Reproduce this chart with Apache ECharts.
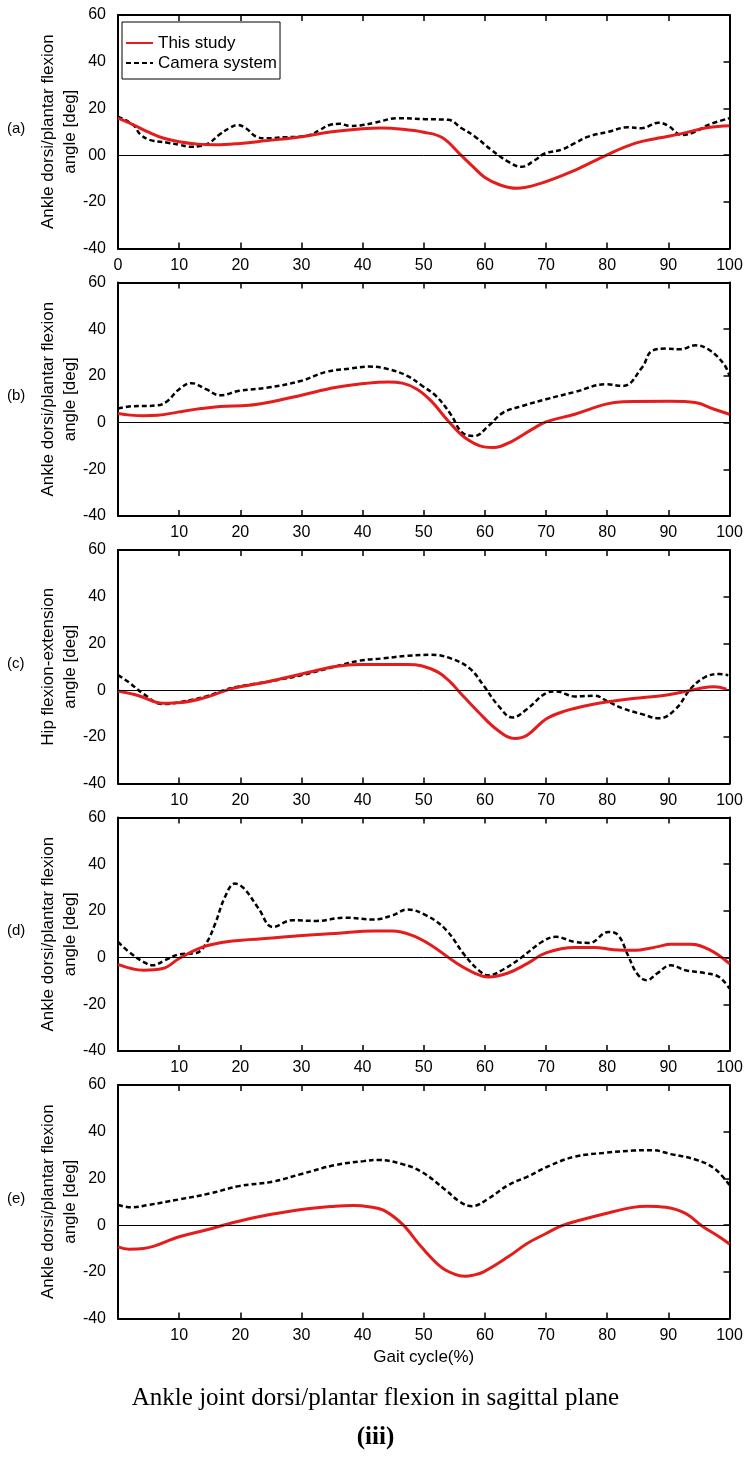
<!DOCTYPE html>
<html>
<head>
<meta charset="utf-8">
<script src="https://cdn.jsdelivr.net/npm/echarts@6/dist/echarts.min.js"></script>
<style>html,body{margin:0;padding:0;background:#fff;}#c{width:751px;height:1459px;}</style>
</head>
<body>
<div id="c"></div>
<script>
// ---- data (gait cycle %, angle deg) ----
const panelLetters = ['(a)', '(b)', '(c)', '(d)', '(e)'];
const yTitles = [
  'Ankle dorsi/plantar flexion\nangle [deg]',
  'Ankle dorsi/plantar flexion\nangle [deg]',
  'Hip flexion-extension\nangle [deg]',
  'Ankle dorsi/plantar flexion\nangle [deg]',
  'Ankle dorsi/plantar flexion\nangle [deg]'
];
const seriesNames = ['This study', 'Camera system'];
const xTicks = [0, 10, 20, 30, 40, 50, 60, 70, 80, 90, 100];
const yTicks = [-40, -20, 0, 20, 40, 60];

const aStudy = [[0,15.8],[2.5,13],[5,9.8],[7.5,7.2],[10,5.7],[13,4.7],[16,4.4],[20,5],[24,6.1],[30,7.9],[35,10],[40,11.3],[43,11.6],[46.5,11.1],[50,9.8],[53,7.5],[56,0.2],[58,-4.8],[60,-9.6],[62.5,-12.8],[65.2,-14.2],[69,-12.2],[74.7,-6.5],[79.9,0],[84.5,5],[88.4,7.3],[92.2,9.2],[96.5,11.8],[100,12.6]];
const aCamera = [[0,16.5],[2.5,12.9],[3.6,9],[5.2,6.5],[7.9,5.4],[10.1,4.4],[11.7,3.6],[13.4,3.9],[14.9,5.1],[16.5,8.6],[18.2,11.5],[19.5,12.9],[20.9,11.5],[22.6,7.9],[24.3,7.2],[27,7.6],[29.7,7.9],[31.4,8.6],[33,10.8],[34.6,12.9],[36.3,13.4],[37.9,12.5],[39.6,12.7],[42,13.9],[45.8,15.8],[50.2,15.4],[54,15.1],[56.2,11.5],[58.4,7.9],[61.1,2.1],[63.8,-2.8],[66,-5],[68.2,-2.1],[69.8,0.7],[72.6,2.4],[74.7,5.1],[76.9,7.9],[80.2,10],[83.4,11.9],[85.6,11.5],[88.4,13.9],[90,12.5],[92.2,8.6],[94.4,10],[96.5,12.9],[100,15.8]];

const bStudy = [[0,3.9],[2,3.2],[4.2,2.9],[6.5,3.1],[10,4.6],[13.6,6],[16.7,6.9],[21.4,7.4],[24.5,8.6],[30,11.7],[35.5,15],[40.2,16.7],[44.2,17.4],[46.5,16.9],[48.9,14.3],[51.2,9.3],[54,0.7],[56.7,-6.4],[59.8,-10.4],[61.4,-10.7],[64.5,-7.9],[67.7,-2.9],[70,0.3],[74.7,3.6],[79.8,7.9],[82.6,8.9],[90.4,9.1],[94.4,8.6],[97.5,5.7],[100,3.6]];
const bCamera = [[0,6],[1.8,6.9],[6.5,7.4],[8.1,9.3],[10,14.3],[12,16.9],[14.4,14.3],[16.7,11.7],[19.8,13.6],[24.5,15],[30,17.9],[34,21.7],[37.9,23.1],[41,24],[44.2,22.9],[47.3,20],[49.6,16],[52,11.4],[54.4,3.6],[56.3,-4.3],[58.3,-5.7],[60.6,-1.4],[63,4.3],[66.1,7.1],[70,10],[74.7,13.1],[79.8,16.4],[82.6,15.7],[85.7,23.6],[87.3,30.7],[89.6,31.7],[92,31.4],[94.4,33.1],[96.7,31.1],[99.1,25],[100,20]];

const cStudy = [[0,-0.4],[3.4,-2.4],[7.3,-5.6],[10.4,-5.3],[14.4,-3.1],[18.3,0.4],[21.4,2.1],[24.5,3.6],[30,6.9],[35.5,10.1],[39.5,11],[47.3,11],[49.6,10.4],[52.4,7.6],[54.4,3.3],[55.9,-1],[59,-9.6],[62.2,-17.4],[64.9,-20.7],[66.9,-19.3],[70,-12.4],[73.2,-8.9],[77.1,-6.4],[80.2,-5],[84.2,-3.6],[88.9,-2.4],[92,-1],[95.1,0.7],[97.5,1.4],[99.5,0.4]];
const cCamera = [[0,6.4],[1.8,3.3],[4.2,-1.7],[7.3,-6],[10.4,-5],[14.4,-2.7],[17.5,0.1],[19.8,1.6],[24.5,3.6],[30,6.4],[35.5,10.1],[39.5,12.6],[43.4,13.6],[47.3,14.7],[51.2,15.1],[54.4,13.6],[57.5,9.3],[59.8,1.9],[62.2,-6.7],[64.5,-11.7],[66.9,-8.1],[70,-1.3],[71.6,-0.6],[74.7,-2.7],[77.9,-2.4],[80.2,-5],[82.6,-7.9],[85.7,-10.3],[88.5,-12.1],[91.2,-8.1],[93.6,0.4],[95.9,5.4],[98.3,6.9],[99.8,6.4]];

const dStudy = [[0,-2.9],[4.2,-5.4],[7.3,-4.7],[10,-0.4],[13.6,4.3],[17.5,6.7],[21.4,7.7],[26.1,8.6],[30.8,9.6],[35.5,10.3],[41.8,11.4],[44.9,11.4],[48,9.6],[51.2,5.3],[55.1,-1.9],[58.3,-6.6],[60.6,-8.3],[63.8,-6.6],[66.9,-2.6],[70,2],[74.7,4.3],[77.9,4.3],[81,3.4],[84.2,3.1],[88.1,4.6],[90.4,5.7],[93.6,5.7],[96.7,3.4],[100,-2.6]];
const dCamera = [[0,6.7],[1.8,2.4],[4.2,-1.9],[5.7,-3.3],[7.7,-1.1],[10,1.4],[12.8,2],[14.4,6],[15.9,14.6],[17.5,26],[19.1,31.7],[20.6,29.6],[23,21],[25.3,13.1],[28.5,16],[32.4,15.7],[37.1,17.1],[41.8,16.3],[44.9,18.1],[47.3,20.6],[50.4,18.1],[53.6,12],[56.7,1],[59.1,-5.7],[60.6,-7.6],[63,-5.1],[66.1,0.3],[69.3,6.7],[71.6,8.9],[74.7,6.7],[77.1,6.3],[80.2,11],[81.8,9.6],[83.4,1],[84.9,-6.9],[86.5,-9.7],[88.1,-6.9],[90.4,-3.3],[92.8,-5.4],[95.9,-6.6],[98.3,-8.3],[100,-13.3]];

const eStudy = [[0,-9.3],[1.8,-10.3],[4.2,-10],[10,-5],[14.4,-2.1],[18.3,0.7],[23,3.6],[30,6.7],[35.5,8.1],[38.5,8.4],[41,7.9],[43.4,6.4],[46.5,0.4],[49.6,-9.3],[52.8,-17.9],[55,-21],[56.7,-21.9],[58,-21.5],[59.8,-20],[63.8,-13.6],[66.9,-7.9],[70,-3.6],[72.4,-0.4],[75.5,2.1],[79.8,5],[84.2,7.6],[86.5,8.1],[89.6,7.6],[92.8,5],[95.5,-0.4],[98.3,-5],[100,-8.1]];
const eCamera = [[0,8.6],[2.2,7.6],[4.9,8.6],[10,11],[15.1,13.6],[19.8,16.7],[25.3,18.6],[30,21.9],[35.5,25.7],[40.2,27.4],[42.6,27.9],[46.5,26.1],[49.6,22.9],[53.6,15],[55.9,10],[57.9,8.1],[60.6,11.4],[63.8,17.1],[66.9,20.7],[70.8,25.7],[74.7,29.3],[79.8,31],[84.2,31.9],[87.3,32.1],[90.4,30.4],[94.4,28.1],[97.5,24.3],[100,17.1]];

const studyData = [aStudy, bStudy, cStudy, dStudy, eStudy];
const cameraData = [aCamera, bCamera, cCamera, dCamera, eCamera];

// ---- layout ----
const FONT = 'Liberation Sans, Arial, Helvetica, sans-serif';
const gridLeft = 118, gridWidth = 611.5, gridHeight = 233.5;
const gridTops = [15, 282.5, 550, 817.5, 1085];
const RED = '#e41c1c';

const grids = [], xAxes = [], yAxes = [], series = [], graphics = [];
gridTops.forEach((top, i) => {
  grids.push({ left: gridLeft, top: top, width: gridWidth, height: gridHeight, show: false });
  const axisLine = { show: true, onZero: false, lineStyle: { color: '#000', width: 2 } };
  const tick = { show: true, inside: true, length: 6, lineStyle: { color: '#000', width: 1.5 } };
  xAxes.push({
    type: 'value', gridIndex: i, position: 'bottom',
    min: xTicks[0], max: xTicks[xTicks.length - 1], interval: 10,
    axisLine: axisLine, axisTick: tick, splitLine: { show: false },
    axisLabel: { show: true, color: '#000', fontSize: 16, fontFamily: FONT, margin: 9, showMinLabel: i === 0 },
    name: i === 4 ? 'Gait cycle(%)' : '', nameLocation: 'middle', nameGap: 30, nameMoveOverlap: false,
    nameTextStyle: { color: '#000', fontSize: 17, fontFamily: FONT }
  });
  xAxes.push({
    type: 'value', gridIndex: i, position: 'top',
    min: xTicks[0], max: xTicks[xTicks.length - 1], interval: 10,
    axisLine: axisLine, axisTick: tick, splitLine: { show: false }, axisLabel: { show: false }
  });
  yAxes.push({
    type: 'value', gridIndex: i, position: 'left',
    min: yTicks[0], max: yTicks[yTicks.length - 1], interval: 20,
    axisLine: axisLine, axisTick: { show: false }, splitLine: { show: false },
    axisLabel: {
      color: '#000', fontSize: 16, fontFamily: FONT, margin: 12,
      formatter: v => (i === 0 && v === 0) ? '00' : String(v)
    },
    name: yTitles[i], nameLocation: 'middle', nameGap: 37, nameRotate: 90, nameMoveOverlap: false,
    nameTextStyle: { color: '#000', fontSize: 17, lineHeight: 22, fontFamily: FONT, align: 'center' }
  });
  yAxes.push({
    type: 'value', gridIndex: i, position: 'right',
    min: yTicks[0], max: yTicks[yTicks.length - 1], interval: 20,
    axisLine: axisLine, axisTick: tick, splitLine: { show: false }, axisLabel: { show: false }
  });

  series.push({
    name: seriesNames[1], type: 'line', xAxisIndex: 2 * i, yAxisIndex: 2 * i,
    data: cameraData[i], smooth: 0.4, symbol: 'none', z: 3,
    lineStyle: { color: '#000', width: 2.5, type: [5, 3] }, itemStyle: { color: '#000' },
    markLine: {
      silent: true, symbol: ['none', 'none'], label: { show: false },
      lineStyle: { color: '#000', width: 1, type: 'solid' },
      data: [{ yAxis: 0 }], animation: false
    }
  });
  series.push({
    name: seriesNames[0], type: 'line', xAxisIndex: 2 * i, yAxisIndex: 2 * i,
    data: studyData[i], smooth: 0.4, symbol: 'none', z: 4,
    lineStyle: { color: RED, width: 3 }, itemStyle: { color: RED }
  });

  graphics.push({
    type: 'text', left: 7, top: top + 106,
    style: { text: panelLetters[i], fill: '#000', font: '15px ' + FONT }
  });
});

graphics.push({
  type: 'text', left: 'center', top: 1386,
  style: { text: 'Ankle joint dorsi/plantar flexion in sagittal plane', fill: '#000',
           font: '25px "Liberation Serif", "Times New Roman", serif' }
});
graphics.push({
  type: 'text', left: 'center', top: 1425,
  style: { text: '(iii)', fill: '#000', font: 'bold 25px "Liberation Serif", "Times New Roman", serif' }
});

const chart = echarts.init(document.getElementById('c'), null, { renderer: 'canvas' });
chart.setOption({
  animation: false,
  backgroundColor: '#fff',
  grid: grids, xAxis: xAxes, yAxis: yAxes, series: series, graphic: graphics,
  legend: {
    data: seriesNames, orient: 'vertical', left: 122, top: 22,
    padding: [12, 3, 7, 3], itemGap: 2, itemWidth: 27, itemHeight: 10,
    borderColor: '#000', borderWidth: 1, backgroundColor: '#fff',
    itemStyle: { opacity: 0 },
    textStyle: { color: '#000', fontSize: 17, lineHeight: 18, fontFamily: FONT },
    selectedMode: false
  }
});
</script>
</body>
</html>
